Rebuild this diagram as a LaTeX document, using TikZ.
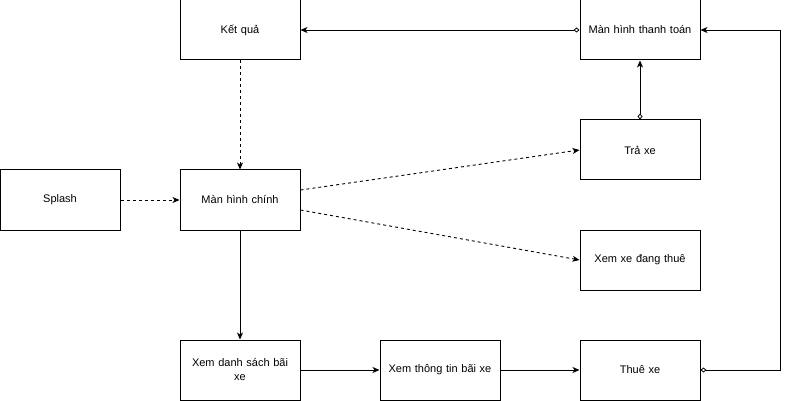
\documentclass[tikz,border=0pt]{standalone}
\usepackage{fontspec}
\setmainfont{Liberation Sans}
\usetikzlibrary{arrows.meta}
\begin{document}
\begin{tikzpicture}[x=1pt,y=-1pt,
  box/.style={draw=black,line width=1pt,minimum width=120pt,minimum height=60pt,inner sep=0pt,text width=116pt,align=center,font=\fontsize{11}{14}\selectfont},
  conn/.style={line width=0.9pt,-{Stealth[length=7pt,width=6pt,inset=2pt]}},
  dconn/.style={conn,dashed,dash pattern=on 3pt off 3pt},
  dia/.style={{Diamond[open,length=6pt,width=5pt,line width=0.8pt]}-{Stealth[length=7pt,width=6pt,inset=2pt]}}
  ]
\useasboundingbox (0,0) rectangle (790,401);
\node[box] (kq) at (240,30) {Kết quả};
\node[box] (tt) at (640,30) {Màn hình thanh toán};
\node[box] (tra) at (640,150) {Trả xe};
\node[box] (sp) at (60,200) {Splash};
\node[box] (mc) at (240,200) {Màn hình chính};
\node[box] (dt) at (640,260) {Xem xe đang thuê};
\node[box] (ds) at (240,370) {Xem danh sách bãi\\xe};
\node[box] (tin) at (440,370) {Xem thông tin bãi xe};
\node[box] (thue) at (640,370) {Thuê xe};
\coordinate (c1) at (780,370);
\coordinate (c2) at (780,30);
\draw[conn,dia] (tt.west) -- (kq.east);
\draw[dconn] (kq.south) -- (mc.north);
\draw[dconn] (sp.east) -- (mc.west);
\draw[dconn] ([yshift=10pt]mc.east) -- (tra.west);
\draw[dconn] ([yshift=-10pt]mc.east) -- (dt.west);
\draw[conn] (mc.south) -- (ds.north);
\draw[conn] (ds.east) -- (tin.west);
\draw[conn] (tin.east) -- (thue.west);
\draw[conn,dia] (thue.east) -- (c1) -- (c2) -- (tt.east);
\draw[conn,dia] (tra.north) -- (tt.south);
\end{tikzpicture}
\end{document}
